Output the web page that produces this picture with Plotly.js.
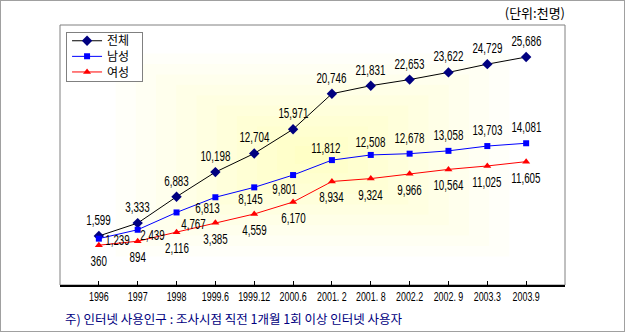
<!DOCTYPE html>
<html><head><meta charset="utf-8">
<script src="https://cdn.plot.ly/plotly-3.0.1.min.js"></script>
<style>
html,body{margin:0;padding:0;background:#fff;}
#chart{width:623px;height:330px;border:1px solid #a0a0a0;}
</style></head><body>
<div id="chart"></div>
<script>
// ---- data ----
const categories = ['1996','1997','1998','1999.6','1999.12','2000.6','2001. 2','2001. 8','2002.2','2002. 9','2003.3','2003.9'];
const totalValues  = [1599,3333,6883,10198,12704,15971,20746,21831,22653,23622,24729,25686];
const maleValues   = [1239,2439,4767,6813,8145,9801,11812,12508,12678,13058,13703,14081];
const femaleValues = [360,894,2116,3385,4559,6170,8934,9324,9966,10564,11025,11605];
const seriesNames  = ['전체','남성','여성'];
const unitLabel = '(단위:천명)';
const footnote  = '주) 인터넷 사용인구 : 조사시점 직전 1개월 1회 이상 인터넷 사용자';

// ---- styling ----
const KR = '"Noto Sans CJK KR", "Noto Sans", sans-serif';
const SANS = '"Liberation Sans", Arial, sans-serif';
const fmt = v => v.toLocaleString('en-US');

const traces = [
  {x: categories, y: totalValues, name: seriesNames[0], type: 'scatter', mode: 'lines+markers',
   line: {color: '#000000', width: 1}, marker: {symbol: 'diamond', size: 8, color: '#000080'}},
  {x: categories, y: maleValues, name: seriesNames[1], type: 'scatter', mode: 'lines+markers',
   line: {color: '#0000ff', width: 1}, marker: {symbol: 'square', size: 6, color: '#0000ff'}},
  {x: categories, y: femaleValues, name: seriesNames[2], type: 'scatter', mode: 'lines+markers',
   line: {color: '#ff0000', width: 1}, marker: {symbol: 'triangle-up', size: 7, color: '#ff0000'}}
];

// label pixel shifts (style)
const maleShiftX = [19,15,17,-8,-4,-9,-6,0,0,0,0,0];
const maleShiftY = [-1,-5,-12,-10.5,-12,-14,12,13,16,16,16,16];

const annotations = [];
const labelFont = {family: SANS, size: 14, color: '#000'};
categories.forEach((c, i) => {
  annotations.push({x: i, y: totalValues[i], text: fmt(totalValues[i]), showarrow: false,
    yshift: 16, font: labelFont});
  annotations.push({x: i, y: maleValues[i], text: fmt(maleValues[i]), showarrow: false,
    xshift: maleShiftX[i], yshift: maleShiftY[i], font: labelFont});
  annotations.push({x: i, y: femaleValues[i], text: fmt(femaleValues[i]), showarrow: false,
    yshift: -16, font: labelFont});
});
annotations.push({xref: 'paper', yref: 'paper', x: 0.006, y: -0.127, xanchor: 'left', yanchor: 'middle',
  text: footnote, showarrow: false, font: {family: KR, size: 12.5, color: '#000080'}});

// background rectangular gradient (stepped)
const shapes = [];
const steps = [0.78,0.70,0.62,0.54,0.46,0.38,0.30,0.22,0.14,0.07];
steps.forEach(f => {
  shapes.push({type: 'rect', xref: 'paper', yref: 'paper', x0: 0.5 - f/2, x1: 0.5 + f/2,
    y0: 0.5 - f/2, y1: 0.5 + f/2, fillcolor: 'rgba(255,255,0,0.025)', line: {width: 0}, layer: 'below'});
});
shapes.push({type: 'rect', xref: 'paper', yref: 'paper', x0: 0, x1: 1, y0: 0, y1: 1,
  line: {color: '#808080', width: 1}, fillcolor: 'rgba(0,0,0,0)', layer: 'below'});

const layout = {
  width: 623, height: 330,
  margin: {l: 59, r: 59, t: 24, b: 46},
  paper_bgcolor: '#ffffff', plot_bgcolor: '#ffffff',
  title: {text: unitLabel, xref: 'paper', x: 1, xanchor: 'right', yref: 'container', y: 0.962,
    yanchor: 'middle', font: {family: KR, size: 13, color: '#000'}},
  showlegend: true,
  legend: {x: 0.012, y: 0.974, xanchor: 'left', yanchor: 'top', bgcolor: '#ffffff',
    bordercolor: '#808080', borderwidth: 1, font: {family: KR, size: 12, color: '#000'}},
  xaxis: {type: 'category', range: [-1, 12], showline: true, linecolor: '#000', linewidth: 2,
    tickmode: 'linear', tick0: 0, dtick: 1, tickangle: 0,
    ticks: 'inside', ticklen: 4, tickwidth: 1, tickcolor: '#000', showgrid: false, zeroline: false,
    tickfont: {family: SANS, size: 12, color: '#000'}, fixedrange: true},
  yaxis: {range: [-5000, 30000], visible: false, showgrid: false, zeroline: false, fixedrange: true},
  shapes: shapes,
  annotations: annotations
};

function squeeze(sel, k, test) {
  document.querySelectorAll(sel).forEach(t => {
    if (test && !test.test(t.textContent)) return;
    const w = t.getComputedTextLength();
    if (w > 0) {
      t.setAttribute('textLength', (w * k).toFixed(2));
      t.setAttribute('lengthAdjust', 'spacingAndGlyphs');
    }
  });
}

Plotly.newPlot('chart', traces, layout, {displayModeBar: false, staticPlot: true}).then(() => {
  squeeze('#chart .annotation-text', 0.7, /^[\d,]+$/);
  squeeze('#chart .xtick text', 0.74);
  // tighten legend rows
  const items = document.querySelectorAll('#chart .legend .traces');
  items.forEach((g, i) => {
    const m = /translate\(([-\d.]+),\s*([-\d.]+)\)/.exec(g.getAttribute('transform') || '');
    const x = m ? m[1] : 0;
    g.setAttribute('transform', 'translate(' + x + ',' + (9 + i * 15.6) + ')');
  });
  const bg = document.querySelector('#chart .legend rect.bg');
  if (bg) {
    bg.setAttribute('height', 49);
    bg.setAttribute('width', parseFloat(bg.getAttribute('width')) + 7);
  }
});
</script>
</body></html>
